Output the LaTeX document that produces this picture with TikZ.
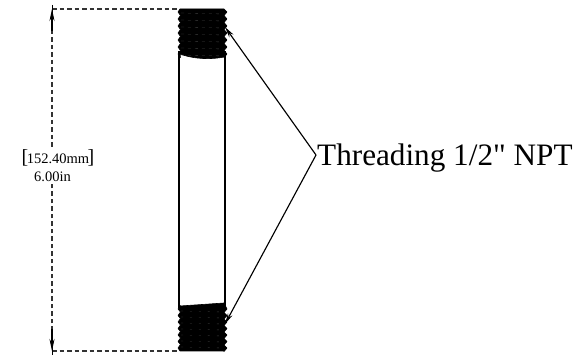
\documentclass[tikz,border=0pt]{standalone}
\usepackage{fontspec}
\setmainfont{Liberation Serif}
\newfontfamily\plainserif{Liberation Serif}
\usetikzlibrary{arrows.meta}
\tikzset{
  threadfill/.style={fill=black,draw=black,line width=0.6pt,line join=round},
  threadline/.style={draw=black!75,line width=0.3pt},
  body/.style={draw=black,line width=1.3pt,fill=white},
  dimline/.style={draw=black!80,line width=1.1pt,dash pattern=on 4.5pt off 3pt},
  leader/.style={draw=black,line width=1.15pt,-{Stealth[length=11pt,width=5pt]}},
  dimarrow/.style={draw=black,line width=1.1pt,-{Stealth[length=12pt,width=5pt]}},
  dimtext/.style={font=\fontsize{14.5}{16}\selectfont,inner sep=0pt},
  calltext/.style={font=\plainserif\fontsize{31.2}{34}\selectfont,inner sep=0pt,anchor=base west},
}
\begin{document}
\begin{tikzpicture}[x=1pt,y=-1pt]
\useasboundingbox (0,0) rectangle (579,355);
\fill[white] (0,0) rectangle (579,355);
% body
\draw[body] (179,52) rectangle (225,307);
% top thread
\fill[threadfill] (180,9)
  \foreach \i in {0,...,6}{ -- ({178},{12+7*\i}) -- ({180.5},{15.5+7*\i}) }
  -- (180,54) .. controls (195,59.5) and (212,59.5) .. (224,57)
  \foreach \i in {6,...,0}{ -- (224,{15.5+7*\i}) -- (227,{12+7*\i}) } -- (224,9) -- cycle;
% bottom thread
\fill[threadfill] (180,306) -- (224,303)
  \foreach \i in {0,...,6}{ -- (227,{309+6.5*\i}) -- (224,{312.5+6.5*\i}) }
  -- (224,351) -- (180,351)
  \foreach \i in {6,...,0}{ -- (178,{309+6.5*\i}) -- (180.5,{305.5+6.5*\i}) } -- cycle;
\foreach \i in {0,...,6}{
  \draw[threadline,dash pattern=on 3pt off 4pt] (181,{13+7*\i}) -- (223,{14+7*\i});
  \draw[threadline,dash pattern=on 2pt off 7pt] (181,{311+6*\i}) -- (223,{312+6*\i});
}
% dimension
\coordinate (dimtop) at (52,9);
\coordinate (dimbot) at (52,351);
\coordinate (exttop) at (178,9);
\coordinate (extbot) at (178,351);
\node[dimtext] (dimmm) at (58,157.5) {\fontsize{20}{20}\selectfont[\kern-1.5pt\fontsize{14.5}{16}\selectfont 152.40mm\kern-1.5pt\fontsize{20}{20}\selectfont]};
\node[dimtext] (dimin) at (52.5,177) {6.00in};
\draw[dimline] (dimtop) -- (exttop);
\draw[dimline] (dimbot) -- (extbot);
\draw[dimline] (52,30) -- (dimmm.north -| dimtop);
\draw[dimline] (52,331) -- (dimin.south -| dimtop);
\draw[dimarrow] (52,31) -- (dimtop);
\draw[dimarrow] (52,329) -- (dimbot);
\draw[black,line width=.5pt] (dimtop) ++(0,-4) -- ++(0,8);
\draw[black,line width=.5pt] (dimbot) ++(0,-4) -- ++(0,8);
% callout
\node[calltext] (call) at (317,166) {Threading 1/2" NPT};
\coordinate (apex) at (316,155);
\coordinate (tiptop) at (225,27);
\coordinate (tipbot) at (225,324);
\draw[leader] (apex) -- (tiptop);
\draw[leader] (apex) -- (tipbot);
\end{tikzpicture}
\end{document}
